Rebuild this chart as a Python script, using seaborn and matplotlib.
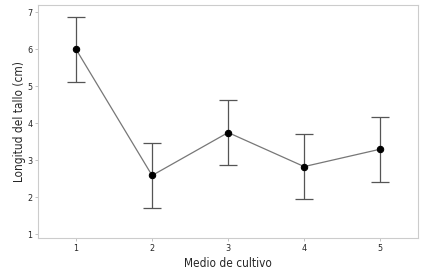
import matplotlib
matplotlib.use("Agg")
import matplotlib.pyplot as plt
import seaborn as sns
import pandas as pd

# data
medio = [1, 2, 3, 4, 5]
media = [6.00, 2.59, 3.75, 2.83, 3.30]
error = [0.88, 0.88, 0.88, 0.88, 0.88]

sns.set_style("white")
plt.rcParams["font.family"] = ["Liberation Sans Narrow", "DejaVu Sans"]
plt.rcParams["font.stretch"] = "condensed"

df = pd.DataFrame({"medio": medio, "media": media, "error": error})

fig = plt.figure(figsize=(4.37, 2.72), dpi=100)
ax = fig.add_axes([0.087, 0.125, 0.870, 0.857])

ax.errorbar(df["medio"], df["media"], yerr=df["error"], fmt="none",
            ecolor="#555555", elinewidth=0.9, capsize=6.3, capthick=0.9)
sns.lineplot(data=df, x="medio", y="media", ax=ax, color="#777777",
             linewidth=0.9, marker="o", markersize=4.6,
             markerfacecolor="black", markeredgecolor="black")

ax.set_xlim(0.5, 5.5)
ax.set_ylim(0.9, 7.2)
ax.set_xticks(medio)
ax.set_yticks(range(1, 8))
ax.tick_params(axis="both", labelsize=6.5, length=2, width=0.5,
               color="#aaaaaa", pad=2, left=True, bottom=True)
ax.set_xlabel("Medio de cultivo", fontsize=8.5, labelpad=3)
ax.set_ylabel("Longitud del tallo (cm)", fontsize=8.5, labelpad=1)
for s in ax.spines.values():
    s.set_color("#cccccc")
    s.set_linewidth(0.8)

fig.savefig("out.png", dpi=100)
